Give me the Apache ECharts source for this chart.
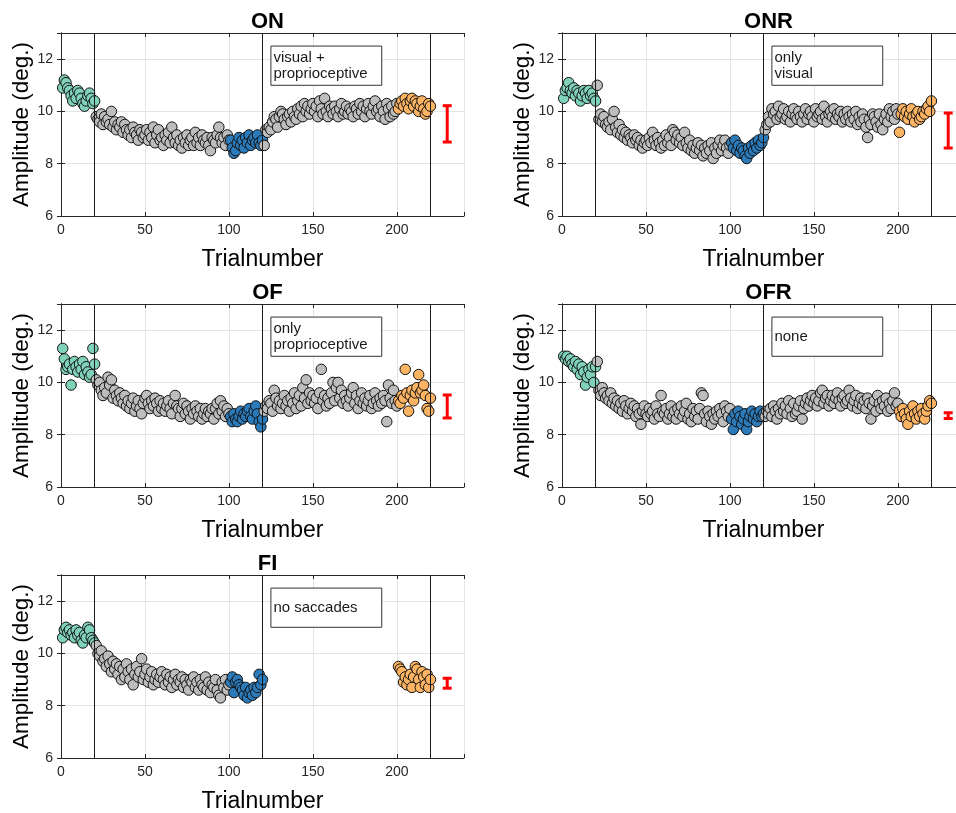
<!DOCTYPE html>
<html>
<head>
<meta charset="utf-8">
<script src="https://cdn.jsdelivr.net/npm/echarts@6/dist/echarts.min.js"></script>
<style>
html,body{margin:0;padding:0;background:#fff;}
#chart{width:956px;height:813px;}
</style>
</head>
<body>
<div id="chart"></div>
<script>
// ---------- DATA (amplitude in deg. per trial) ----------
// phases: trials 1-20 (pre), 21-100 (adapt), 101-120 (adaptEnd), 121-200 (post), 201-220 (test)
const xTicks = [0, 50, 100, 150, 200];
const yTicks = [6, 8, 10, 12];
const phaseLines = [20, 120, 220];

const ON_pre = [10.9,11.2,11.1,10.9,10.8,10.6,10.4,10.7,10.5,10.8,10.7,10.5,10.3,10.2,10.4,10.6,10.7,10.5,10.3,10.4];
const ON_adapt = [9.8,9.7,9.6,9.9,9.5,9.8,9.6,9.7,9.5,10.0,
  9.4,9.6,9.3,9.5,9.4,9.6,9.2,9.5,9.3,9.1,
  9.3,9.0,9.4,9.2,9.1,8.9,9.3,9.2,9.0,9.1,
  9.3,8.9,9.2,9.0,9.4,8.8,9.1,9.3,8.9,9.0,
  8.7,9.1,8.9,9.2,8.8,9.4,9.0,8.8,9.1,8.7,
  8.9,8.6,9.0,8.8,9.1,8.7,8.9,9.0,8.7,9.2,
  8.8,9.0,8.7,9.1,8.9,8.8,9.0,8.7,8.5,9.0,
  8.9,8.8,9.1,9.4,9.0,8.8,9.0,8.7,9.1,8.9];
const ON_adaptEnd = [8.9,8.6,8.4,8.5,8.8,9.0,8.7,8.9,8.6,9.0,8.8,9.1,8.7,8.9,9.0,8.8,9.1,8.8,8.7,8.9];
const ON_post = [8.7,9.3,9.2,9.4,9.3,9.6,9.8,9.7,9.4,9.8,
  10.0,9.9,9.7,9.5,9.8,9.9,9.6,10.0,9.8,9.7,
  10.1,9.9,10.2,9.8,10.3,10.0,10.2,9.9,10.1,10.3,
  10.0,10.2,9.8,10.4,10.1,9.9,10.5,10.0,9.8,10.2,
  10.1,9.9,10.2,10.0,9.8,10.1,10.3,9.9,10.0,10.2,
  9.9,10.1,10.0,9.8,10.2,10.1,9.9,10.3,10.0,10.2,
  9.8,10.1,10.3,10.0,9.9,10.2,10.4,10.0,10.1,9.8,
  10.2,10.0,9.7,10.3,10.1,9.8,10.2,9.9,10.0,10.3];
const ON_test = [10.1,10.3,10.4,10.2,10.5,10.3,10.1,10.4,10.5,10.2,10.4,10.3,10.0,10.2,10.4,10.1,9.9,10.0,10.3,10.2];
const ON_err = [8.83, 10.22];

const ONR_pre = [10.5,10.8,10.9,11.1,10.8,10.7,10.9,10.6,10.8,10.7,10.4,10.6,10.8,10.7,10.5,10.8,10.6,10.7,10.5,10.4];
const ONR_adapt = [11.0,9.7,9.9,9.6,9.8,9.5,9.4,9.6,9.3,9.7,
  10.0,9.4,9.2,9.5,9.1,9.3,9.0,9.2,8.9,9.1,
  9.0,8.8,9.1,8.9,9.0,8.7,8.9,8.6,8.8,8.9,
  8.7,9.0,8.8,9.2,8.9,8.7,9.0,8.8,8.6,8.9,
  8.7,9.1,8.8,9.0,8.7,9.3,9.2,8.9,9.1,8.8,
  9.0,8.7,9.2,8.8,8.6,8.9,8.5,8.7,8.4,8.6,
  8.8,8.5,8.7,8.3,8.6,8.4,8.7,8.5,8.8,8.2,
  8.6,8.4,8.7,8.9,8.5,8.7,8.9,8.6,8.4,8.7];
const ONR_adaptEnd = [8.8,8.6,8.9,8.5,8.7,8.4,8.6,8.5,8.3,8.2,8.6,8.4,8.7,8.5,8.8,8.6,8.9,8.7,8.8,9.0];
const ONR_post = [9.3,9.5,9.8,9.6,10.1,9.9,10.0,9.7,10.2,9.8,
  9.9,10.1,9.7,9.8,10.0,9.6,9.9,10.1,9.8,9.7,
  10.0,9.8,9.6,9.9,10.1,9.7,9.9,10.0,9.8,9.6,
  10.1,9.8,9.9,10.0,9.7,10.2,9.8,9.6,9.9,10.0,
  9.8,10.1,9.7,9.9,9.8,10.0,9.6,9.9,9.7,10.0,
  9.8,9.6,9.9,9.7,10.0,9.5,9.8,9.6,9.9,9.7,
  9.4,9.0,9.7,9.5,9.9,9.8,9.6,9.4,9.9,9.5,
  9.3,9.7,9.9,9.6,10.1,9.8,10.0,9.7,10.1,9.9];
const ONR_test = [9.2,9.9,10.1,9.8,10.0,9.7,9.9,10.1,9.8,9.6,9.9,10.0,9.7,9.8,10.0,9.9,10.1,10.2,10.0,10.4];
const ONR_err = [8.6, 9.94];

const OF_pre = [11.3,10.9,10.5,10.6,10.7,9.9,10.5,10.8,10.6,10.4,10.7,10.5,10.8,10.3,10.6,10.4,10.2,10.3,11.3,10.7];
const OF_adapt = [10.1,9.9,10.0,9.7,9.5,9.8,9.6,10.2,9.9,10.1,
  9.4,9.7,9.5,9.3,9.6,9.4,9.2,9.5,9.1,9.3,
  9.0,9.2,9.4,8.9,9.1,9.3,9.0,8.8,9.2,9.4,
  9.5,9.2,9.0,9.3,9.1,9.4,9.2,8.9,9.3,9.0,
  9.2,8.9,9.1,9.3,9.0,8.8,9.2,9.5,9.1,9.0,
  8.7,9.0,9.2,8.8,9.1,8.9,8.6,9.0,8.8,9.1,
  8.9,8.7,9.0,8.6,8.8,9.0,8.7,8.9,8.8,9.0,
  8.6,9.0,9.2,8.8,9.3,8.9,9.1,8.7,9.0,8.8];
const OF_adaptEnd = [8.7,8.5,8.8,8.6,8.5,8.7,8.9,8.6,8.8,8.7,8.9,9.0,8.7,8.6,8.9,9.1,8.8,8.5,8.3,8.6];
const OF_post = [8.9,9.1,9.0,9.3,9.2,8.9,9.7,9.4,9.1,9.3,
  9.0,9.2,9.5,9.1,9.3,8.9,9.4,9.2,9.6,9.0,
  9.3,9.5,9.1,9.8,9.4,10.1,9.2,9.6,9.3,9.5,
  9.2,9.4,9.0,9.6,10.5,9.3,9.5,9.1,9.4,9.2,
  9.6,10.0,9.3,9.8,10.0,9.4,9.7,9.2,9.5,9.3,
  9.1,9.4,9.6,9.8,9.2,9.5,9.0,9.3,9.6,9.2,
  9.4,9.1,9.3,9.5,9.0,9.2,9.6,9.3,9.1,9.4,
  9.2,9.5,9.3,8.5,9.9,9.4,9.2,9.7,9.3,9.1];
const OF_test = [9.3,9.2,9.5,9.4,10.5,9.6,8.9,9.5,9.7,9.3,9.6,9.8,10.3,9.6,9.7,9.9,9.5,9.0,8.9,9.4];
const OF_err = [8.64, 9.52];

const OFR_pre = [11.0,10.9,11.0,10.8,10.9,10.7,10.6,10.8,10.5,10.7,10.3,10.6,10.4,9.9,10.2,10.5,10.3,10.6,10.0,10.6];
const OFR_adapt = [10.8,9.7,9.5,9.8,9.6,9.4,9.5,9.3,9.6,9.2,
  9.4,9.1,9.3,9.0,9.2,8.9,9.3,9.1,8.8,9.0,
  9.2,8.9,9.1,8.7,9.0,8.8,8.4,8.9,9.1,8.8,
  8.7,9.0,8.8,8.9,8.6,9.1,8.8,8.7,9.5,8.9,
  8.8,9.0,8.6,8.8,9.1,8.7,8.9,8.6,9.0,8.8,
  9.1,8.7,8.9,9.2,8.6,8.8,8.5,9.0,8.7,8.9,
  8.6,9.0,9.6,9.5,8.8,8.5,8.9,8.7,8.4,8.8,
  8.6,8.9,8.7,9.0,8.8,8.5,9.1,8.9,8.7,9.0];
const OFR_adaptEnd = [8.6,8.2,8.8,8.5,8.9,8.7,8.4,8.6,8.8,8.2,8.5,8.7,8.9,8.6,8.8,8.5,8.7,8.9,8.7,8.8];
const OFR_post = [8.7,8.9,8.8,9.0,8.7,9.1,8.9,8.6,9.0,8.8,
  9.2,8.9,9.1,8.8,9.3,9.0,8.7,9.2,8.8,8.9,
  9.1,9.3,8.6,9.0,9.2,9.4,9.1,9.3,9.5,9.2,
  9.4,9.1,9.3,9.6,9.7,9.2,9.4,9.5,9.1,9.3,
  9.5,9.2,9.4,9.6,9.3,9.1,9.4,9.5,9.2,9.3,
  9.7,9.4,9.1,9.3,9.5,9.0,9.2,9.4,9.1,9.3,
  9.0,9.4,9.2,8.6,9.1,9.3,8.9,9.5,9.2,9.0,
  9.3,9.1,9.4,8.9,9.2,9.0,9.3,9.6,9.1,9.2];
const OFR_test = [8.9,8.7,9.0,8.8,8.6,8.4,8.9,8.7,9.1,8.8,8.6,8.9,8.7,9.0,8.8,8.6,8.9,9.1,9.3,9.2];
const OFR_err = [8.62, 8.84];

const FI_pre = [10.6,10.9,11.0,10.8,10.9,10.7,10.8,10.6,10.9,10.7,10.8,10.5,10.4,10.7,10.6,11.0,10.9,10.6,10.5,10.4];
const FI_adapt = [10.3,10.0,9.9,10.1,9.7,9.8,9.5,9.9,9.6,9.3,
  9.7,9.4,9.6,9.2,9.5,9.0,9.4,9.1,9.6,9.3,
  9.0,9.4,8.8,9.2,9.5,9.1,9.3,9.8,9.0,9.2,
  9.4,8.9,9.1,9.3,8.8,9.0,9.2,8.9,9.1,9.3,
  9.0,8.8,9.2,8.9,9.1,8.7,9.0,9.2,8.8,9.0,
  8.9,9.1,8.7,9.0,8.8,8.6,9.0,8.9,9.1,8.7,
  8.9,8.6,9.0,8.8,8.7,9.1,8.6,8.9,8.5,8.8,
  8.7,9.0,8.6,8.4,8.3,8.9,8.7,9.0,8.6,8.8];
const FI_adaptEnd = [8.9,9.1,8.5,8.9,9.0,8.8,8.7,8.6,8.4,8.7,8.3,8.5,8.6,8.4,8.7,8.5,8.7,9.2,8.8,9.0];
const FI_post = []; // no trials recorded 121-200
const FI_test = [9.5,9.4,9.3,8.9,9.1,8.8,9.0,9.2,8.7,9.1,9.5,9.4,9.0,8.7,9.3,9.1,8.8,9.2,8.7,9.0];
const FI_err = [8.67, 9.05];

const titles = ['ON', 'ONR', 'OF', 'OFR', 'FI'];
const notes = ['visual +\nproprioceptive', 'only\nvisual', 'only\nproprioceptive', 'none', 'no saccades'];
const noteBox = [[125, 12.5], [191, 11.0]];
const errX = 230;

const panels = [
  {pre: ON_pre, adapt: ON_adapt, end: ON_adaptEnd, post: ON_post, test: ON_test, err: ON_err},
  {pre: ONR_pre, adapt: ONR_adapt, end: ONR_adaptEnd, post: ONR_post, test: ONR_test, err: ONR_err},
  {pre: OF_pre, adapt: OF_adapt, end: OF_adaptEnd, post: OF_post, test: OF_test, err: OF_err},
  {pre: OFR_pre, adapt: OFR_adapt, end: OFR_adaptEnd, post: OFR_post, test: OFR_test, err: OFR_err},
  {pre: FI_pre, adapt: FI_adapt, end: FI_adaptEnd, post: FI_post, test: FI_test, err: FI_err}
];

// ---------- STYLE / LAYOUT ----------
const FONT = '"Liberation Sans", Arial, Helvetica, sans-serif';
const COL = {pre: '#7fd1b9', gray: '#bdbdbd', end: '#2b7bba', test: '#fdb462', err: '#ff0000'};
const AX = '#262626';
const gridPos = [
  {left: 61, top: 33}, {left: 562, top: 33},
  {left: 61, top: 304}, {left: 562, top: 304},
  {left: 61, top: 575}
];
const GW = 403, GH = 183;

const chart = echarts.init(document.getElementById('chart'), null, {renderer: 'canvas'});

const grids = [], xAxes = [], yAxes = [], series = [], titleArr = [];

function pts(arr, start) { return arr.map((v, i) => [start + i, v]); }

panels.forEach((p, k) => {
  const g = gridPos[k];
  grids.push({left: g.left, top: g.top, width: GW, height: GH, containLabel: false, outerBoundsMode: 'none'});
  titleArr.push({
    text: titles[k], left: g.left + GW / 2, top: g.top - 27, textAlign: 'center',
    textStyle: {fontFamily: FONT, fontSize: 22, fontWeight: 'bold', color: '#000'}
  });
  const common = {
    gridIndex: k, type: 'value',
    axisLine: {show: true, lineStyle: {color: AX, width: 1}},
    axisTick: {show: true, inside: true, length: 4, lineStyle: {color: AX}}
  };
  xAxes.push(Object.assign({}, common, {
    position: 'bottom', min: 0, max: 240, interval: 50,
    name: 'Trialnumber', nameLocation: 'middle', nameGap: 32,
    nameTextStyle: {fontFamily: FONT, fontSize: 23, color: '#000'},
    axisLabel: {fontFamily: FONT, fontSize: 14, color: AX, margin: 7,
      formatter: v => xTicks.includes(v) ? String(v) : ''},
    splitLine: {show: true, lineStyle: {color: '#e3e3e3', width: 1}}
  }));
  xAxes.push(Object.assign({}, common, {
    position: 'top', min: 0, max: 240, interval: 50,
    axisLabel: {show: false}, splitLine: {show: false}
  }));
  yAxes.push(Object.assign({}, common, {
    position: 'left', min: 6, max: 13, interval: 2,
    name: 'Amplitude (deg.)', nameLocation: 'middle', nameGap: 27,
    nameTextStyle: {fontFamily: FONT, fontSize: 22.5, color: '#000'},
    axisLabel: {fontFamily: FONT, fontSize: 14, color: AX, margin: 8,
      formatter: v => yTicks.includes(v) ? String(v) : ''},
    splitLine: {show: true, lineStyle: {color: '#e3e3e3', width: 1}}
  }));
  yAxes.push(Object.assign({}, common, {
    position: 'right', min: 6, max: 13, interval: 2,
    axisLabel: {show: false}, splitLine: {show: false}
  }));

  const xi = 2 * k, yi = 2 * k;
  // phase lines + note box
  series.push({
    type: 'line', xAxisIndex: xi, yAxisIndex: yi, data: [], z: 1, silent: true,
    markLine: {
      silent: true, symbol: 'none', animation: false,
      label: {show: false},
      lineStyle: {color: '#1a1a1a', width: 1, type: 'solid'},
      data: phaseLines.map(v => ({xAxis: v}))
    },
    markArea: {
      silent: true, animation: false,
      itemStyle: {color: '#ffffff', borderColor: '#333', borderWidth: 1},
      label: {show: true, position: 'insideLeft', distance: 3, fontFamily: FONT, fontSize: 15,
        lineHeight: 16, color: '#1a1a1a'},
      data: [[{name: notes[k], coord: noteBox[0]}, {coord: noteBox[1]}]]
    }
  });
  const sc = (data, color) => ({
    type: 'scatter', xAxisIndex: xi, yAxisIndex: yi, data: data, symbolSize: 10.5,
    animation: false, silent: true, z: 3,
    itemStyle: {color: color, borderColor: '#111', borderWidth: 1, opacity: 1}
  });
  series.push(sc(pts(p.pre, 1), COL.pre));
  series.push(sc(pts(p.adapt, 21), COL.gray));
  series.push(sc(pts(p.end, 101), COL.end));
  series.push(sc(pts(p.post, 121), COL.gray));
  series.push(sc(pts(p.test, 201), COL.test));
  // error bar
  series.push({
    type: 'custom', xAxisIndex: xi, yAxisIndex: yi, silent: true, animation: false, z: 4,
    data: [[errX, p.err[0], p.err[1]]],
    encode: {x: 0, y: [1, 2]},
    renderItem: function (params, api) {
      const x = api.value(0);
      const lo = api.coord([x, api.value(1)]);
      const hi = api.coord([x, api.value(2)]);
      const w = 4.5;
      const st = {stroke: COL.err, lineWidth: 3};
      return {type: 'group', children: [
        {type: 'line', shape: {x1: lo[0], y1: lo[1], x2: hi[0], y2: hi[1]}, style: st},
        {type: 'line', shape: {x1: lo[0] - w, y1: lo[1], x2: lo[0] + w, y2: lo[1]}, style: st},
        {type: 'line', shape: {x1: hi[0] - w, y1: hi[1], x2: hi[0] + w, y2: hi[1]}, style: st}
      ]};
    }
  });
});

chart.setOption({
  backgroundColor: '#ffffff',
  animation: false,
  title: titleArr,
  grid: grids,
  xAxis: xAxes,
  yAxis: yAxes,
  series: series
});
</script>
</body>
</html>
